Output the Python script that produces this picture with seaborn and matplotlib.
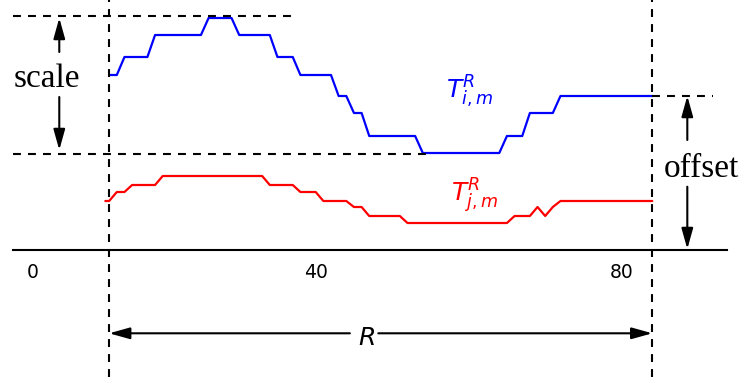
import matplotlib
matplotlib.use("Agg")
import matplotlib.pyplot as plt
import numpy as np
import pandas as pd
import seaborn as sns

# Reference template T_{i,m}^R (blue) sampled over the window R
blue_x = [13, 14, 15, 18, 19, 25, 26, 29, 30, 34, 35, 37, 38, 42, 43, 44,
          45, 46, 47, 53, 54, 64, 65, 67, 68, 71, 72, 84]
blue_y = [17.5, 17.5, 19.3, 19.3, 21.5, 21.5, 23.2, 23.2, 21.5, 21.5, 19.3,
          19.3, 17.5, 17.5, 15.4, 15.4, 13.7, 13.7, 11.4, 11.4, 9.7, 9.7,
          11.4, 11.4, 13.7, 13.7, 15.4, 15.4]

# Candidate template T_{j,m}^R (red)
red_x = [12.5, 13, 14, 15, 16, 19, 20, 33, 34, 37, 38, 40, 41, 44, 45, 46,
         47, 51, 52, 65, 66, 68, 69, 70, 71, 72, 84]
red_y = [4.9, 4.9, 5.8, 5.8, 6.5, 6.5, 7.4, 7.4, 6.5, 6.5, 5.8, 5.8, 4.9,
         4.9, 4.3, 4.3, 3.4, 3.4, 2.7, 2.7, 3.4, 3.4, 4.3, 3.4, 4.3, 4.9, 4.9]

tick_pos = [3.05, 40, 80]
tick_labels = ["0", "40", "80"]

# Window bounds and the scale / offset guides
win_lo, win_hi = 13, 84
scale_top, scale_bot = 23.45, 9.65
offset_level = 15.4

sns.set_style("white")
plt.rcParams["font.family"] = ["DejaVu Sans"]
plt.rcParams["mathtext.fontset"] = "dejavusans"
plt.rcParams["text.color"] = "black"

fig = plt.figure(figsize=(7.43, 3.77), dpi=100)
ax = fig.add_axes([0, 0, 1, 1])
ax.set_facecolor("white")

df_i = pd.DataFrame({"x": blue_x, "y": blue_y})
df_j = pd.DataFrame({"x": red_x, "y": red_y})
sns.lineplot(data=df_i, x="x", y="y", color="#0000ff", lw=1.6, ax=ax,
             sort=False, estimator=None)
sns.lineplot(data=df_j, x="x", y="y", color="#ff0000", lw=1.6, ax=ax,
             sort=False, estimator=None)

ax.set_xlim(-1.27, 95.86)
ax.set_ylim(-12.7, 25.0)
ax.set_xlabel("")
ax.set_ylabel("")

dash = dict(color="black", lw=1.5, ls=(0, (3.8, 3.4)))
ax.vlines([win_lo, win_hi], -12.7, 25.0, **dash)
ax.hlines(scale_top, 0.4, 37.5, **dash)
ax.hlines(scale_bot, 0.4, 54.9, **dash)
ax.hlines(offset_level, win_hi, 92.0, **dash)

# Bottom axis line through y = 0
for s in ["top", "right", "left"]:
    ax.spines[s].set_visible(False)
sp = ax.spines["bottom"]
sp.set_position(("data", 0))
sp.set_bounds(0.4, 93.8)
sp.set_linewidth(1.5)
sp.set_color("black")
ax.set_yticks([])
ax.set_xticks(tick_pos)
ax.set_xticklabels(tick_labels)
ax.tick_params(axis="x", direction="in", length=4, width=1.2, pad=9,
               labelsize=13.5, colors="black")
ax.xaxis.get_major_ticks()[0].tick1line.set_visible(False)

arrow = dict(arrowstyle="-|>,head_length=1.25,head_width=0.35", color="black",
             lw=1.5, shrinkA=0, shrinkB=0, mutation_scale=10)

# scale
ax.annotate("", xy=(6.48, 23.2), xytext=(6.48, 19.8), arrowprops=arrow)
ax.annotate("", xy=(6.48, 10.0), xytext=(6.48, 15.3), arrowprops=arrow)
ax.text(4.81, 16.27, "scale", family="Liberation Serif", size=24,
        color="black", ha="center", va="baseline")

# offset
ax.annotate("", xy=(88.58, 15.4), xytext=(88.58, 11.0), arrowprops=arrow)
ax.annotate("", xy=(88.58, 0.1), xytext=(88.58, 6.33), arrowprops=arrow)
ax.text(90.46, 7.33, "offset", family="Liberation Serif", size=24,
        color="black", ha="center", va="baseline")

# window length R
ax.annotate("", xy=(win_lo, -8.33), xytext=(44.47, -8.33), arrowprops=arrow)
ax.annotate("", xy=(win_hi, -8.33), xytext=(48.18, -8.33), arrowprops=arrow)
ax.text(46.58, -9.5, "$R$", size=18, color="black", ha="center",
        va="baseline")

ax.text(60.04, 15.77, "$T^{R}_{i,m}$", size=18, color="#0000ff",
        ha="center", va="center")
ax.text(60.7, 5.4, "$T^{R}_{j,m}$", size=18, color="#ff0000",
        ha="center", va="center")

fig.savefig("out.png", dpi=100)
